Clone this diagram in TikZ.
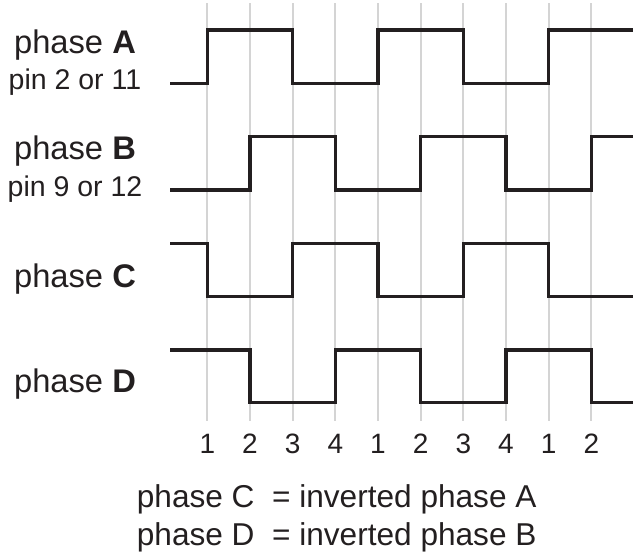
\documentclass[tikz,border=0pt]{standalone}
\usepackage{fontspec}
\setmainfont{Liberation Sans}
\definecolor{gridgray}{RGB}{212,212,212}
\definecolor{wavecol}{RGB}{35,31,32}
\begin{document}
\begin{tikzpicture}[x=1pt,y=-1pt,
  gridline/.style={draw=gridgray,line width=2pt},
  wave/.style={draw=wavecol,line width=3.3pt},
  lbl/.style={inner sep=0,anchor=base,text=wavecol,font=\fontsize{32.7}{36}\selectfont},
  pinlbl/.style={inner sep=0,anchor=base,text=wavecol,font=\fontsize{28.5}{32}\selectfont},
  num/.style={inner sep=0,anchor=base,text=wavecol,font=\fontsize{28}{32}\selectfont},
  note/.style={inner sep=0,anchor=base west,text=wavecol,font=\fontsize{31.6}{36}\selectfont}]
\useasboundingbox (0,0) rectangle (633,554);
% grid lines
\foreach \i in {0,...,9}
  \draw[gridline] ({207.3+42.67*\i},3) -- ({207.3+42.67*\i},420.7);
% waveforms
\draw[wave] (170,83.3) -| (207.3,30) -| (292.7,83.3) -| (378,30) -| (463.3,83.3) -| (548.7,30) -- (633,30);
\draw[wave] (170,190) -| (250,136.7) -| (335.3,190) -| (420.7,136.7) -| (506,190) -| (591.3,136.7) -- (633,136.7);
\draw[wave] (170,243.3) -| (207.3,296.3) -| (292.7,243.3) -| (378,296.3) -| (463.3,243.3) -| (548.7,296.3) -- (633,296.3);
\draw[wave] (170,350) -| (250,402.3) -| (335.3,350) -| (420.7,402.3) -| (506,350) -| (591.3,402.3) -- (633,402.3);
% labels
\node[lbl] (la) at (75,53.3) {phase \textbf{A}};
\node[pinlbl] (pa) at (75,89.3) {pin 2 or 11};
\node[lbl] (lb) at (75,159.3) {phase \textbf{B}};
\node[pinlbl] (pb) at (75,196) {pin 9 or 12};
\node[lbl] (lc) at (75,287.3) {phase \textbf{C}};
\node[lbl] (ld) at (75,392.3) {phase \textbf{D}};
% step numbers
\foreach \i/\t in {0/1,1/2,2/3,3/4,4/1,5/2,6/3,7/4,8/1,9/2}
  \node[num] (n\i) at ({207.3+42.67*\i},453.3) {\t};
% notes
\node[note] (nc) at (136.7,507.3) {phase C\ \ = inverted phase A};
\node[note] (nd) at (136.7,545.7) {phase D\ \ = inverted phase B};
\end{tikzpicture}
\end{document}
